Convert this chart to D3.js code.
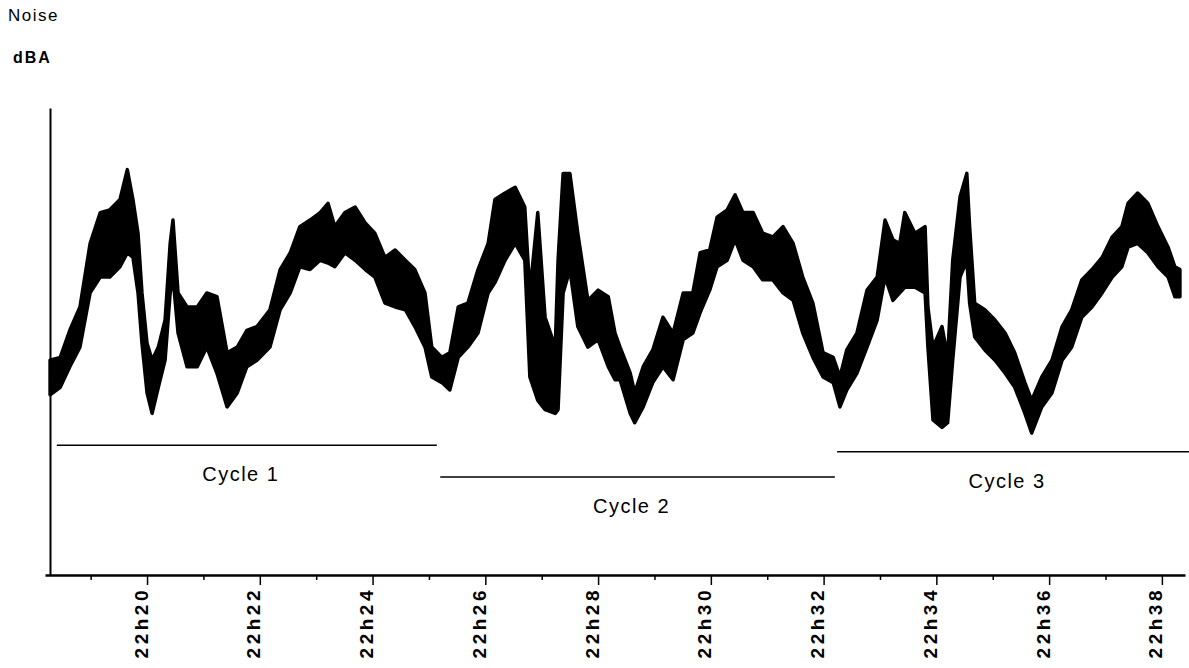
<!DOCTYPE html>
<html>
<head>
<meta charset="utf-8">
<script src="https://cdn.jsdelivr.net/npm/d3@7"></script>
<style>
  body { margin: 0; background: #fff; }
  text { font-family: "Liberation Sans", Arial, sans-serif; fill: #000; }
</style>
</head>
<body>
<div id="chart"></div>
<script>
// sample times, minutes after 22h00
const times = [
  18.28, 18.46, 18.63, 18.81, 18.99, 19.17, 19.34, 19.52, 19.65, 19.75,
  19.84, 19.91, 20.00, 20.09, 20.20, 20.32, 20.41, 20.46, 20.55, 20.71,
  20.89, 21.06, 21.24, 21.42, 21.60, 21.77, 21.95, 22.18, 22.36, 22.54,
  22.71, 22.89, 23.07, 23.21, 23.33, 23.51, 23.69, 23.87, 24.04, 24.22,
  24.40, 24.58, 24.75, 24.93, 25.05, 25.23, 25.37, 25.52, 25.69, 25.87,
  26.05, 26.17, 26.35, 26.53, 26.70, 26.79, 26.93, 27.06, 27.24, 27.29,
  27.38, 27.50, 27.64, 27.82, 28.00, 28.18, 28.30, 28.39, 28.57, 28.65,
  28.80, 28.97, 29.15, 29.33, 29.51, 29.68, 29.81, 29.98, 30.11, 30.29,
  30.43, 30.57, 30.75, 30.92, 31.10, 31.28, 31.46, 31.63, 31.81, 31.99,
  32.17, 32.29, 32.41, 32.59, 32.77, 32.95, 33.09, 33.23, 33.35, 33.44,
  33.62, 33.80, 33.85, 33.94, 34.10, 34.20, 34.29, 34.42, 34.54, 34.59,
  34.68, 34.86, 35.04, 35.22, 35.39, 35.57, 35.69, 35.87, 36.05, 36.23,
  36.40, 36.58, 36.76, 36.94, 37.12, 37.29, 37.40, 37.57, 37.75, 37.93,
  38.11, 38.23, 38.32
];

// upper edge of the noise trace (dBA)
const highDba = [
  53.0, 53.3, 56.2, 58.7, 65.5, 68.8, 69.1, 70.2, 73.4, 70.2,
  66.6, 60.2, 54.8, 53.0, 54.4, 57.3, 65.5, 68.0, 60.2, 58.7,
  58.7, 60.2, 59.8, 53.8, 54.4, 56.2, 56.6, 58.4, 62.7, 64.5,
  67.3, 68.0, 68.8, 69.8, 67.3, 68.8, 69.4, 67.7, 66.6, 64.0,
  64.8, 63.7, 62.7, 60.2, 54.4, 53.3, 53.8, 58.7, 59.1, 62.7,
  65.5, 70.2, 70.9, 71.5, 69.4, 60.2, 68.8, 57.6, 54.4, 63.7,
  73.0, 73.0, 66.6, 59.4, 60.5, 59.8, 55.9, 54.4, 51.6, 49.5,
  52.3, 54.1, 57.6, 55.9, 60.2, 60.2, 64.5, 64.8, 68.3, 69.1,
  70.7, 68.8, 68.8, 66.6, 66.2, 67.3, 65.5, 61.9, 59.1, 53.8,
  53.3, 51.2, 54.1, 55.9, 60.5, 61.9, 68.0, 65.9, 65.5, 68.8,
  66.6, 67.3, 58.7, 54.4, 56.6, 53.3, 63.7, 70.5, 73.0, 67.3,
  59.1, 58.4, 57.3, 55.9, 53.8, 50.6, 48.7, 51.2, 53.0, 56.6,
  58.4, 61.6, 62.7, 64.0, 66.2, 67.3, 69.8, 70.9, 69.8, 67.3,
  65.1, 63.0, 62.7
];

// lower edge of the noise trace (dBA)
const lowDba = [
  49.3, 50.1, 52.3, 54.4, 60.2, 61.9, 61.9, 63.0, 64.5, 64.0,
  60.2, 54.8, 49.5, 47.3, 50.1, 53.0, 60.2, 61.9, 55.9, 52.3,
  52.3, 54.4, 51.6, 48.0, 49.5, 52.3, 53.0, 54.4, 58.4, 60.2,
  63.0, 62.7, 63.7, 63.4, 63.0, 64.5, 63.7, 62.7, 61.9, 59.1,
  58.7, 58.4, 56.6, 54.4, 51.2, 50.6, 49.8, 53.3, 54.4, 55.9,
  60.2, 61.3, 63.7, 65.5, 63.7, 51.2, 48.7, 47.7, 47.3, 47.7,
  60.2, 62.7, 56.6, 54.4, 55.2, 52.3, 50.9, 50.9, 47.3, 46.3,
  48.0, 50.6, 52.3, 50.9, 55.2, 55.9, 58.1, 60.5, 63.0, 63.7,
  65.9, 63.7, 63.0, 61.6, 61.6, 60.2, 59.4, 55.9, 53.3, 51.2,
  50.6, 48.0, 49.8, 51.6, 54.4, 57.3, 61.9, 59.4, 60.2, 60.8,
  60.8, 60.2, 54.4, 46.6, 45.8, 46.3, 53.0, 61.9, 63.7, 59.1,
  55.5, 54.1, 53.0, 51.6, 50.1, 47.3, 45.2, 48.0, 49.5, 53.0,
  54.4, 57.6, 58.7, 60.2, 61.9, 63.0, 65.1, 65.5, 64.5, 63.0,
  61.9, 59.8, 59.8
];

// x axis ticks
const majorTicks = [20, 22, 24, 26, 28, 30, 32, 34, 36, 38];
const tickLabels = ["22h20", "22h22", "22h24", "22h26", "22h28", "22h30", "22h32", "22h34", "22h36", "22h38"];
const minorTicks = [19, 21, 23, 25, 27, 29, 31, 33, 35, 37];

// cycle annotations
const cycleNames = ["Cycle 1", "Cycle 2", "Cycle 3"];
const cycleStart = [18.40, 25.20, 32.24];
const cycleEnd = [25.14, 32.20, 38.48];
const cycleLevel = [43.9, 40.5, 43.2];

const width = 1189, height = 668;

const svg = d3.select('#chart')
    .append('svg')
    .attr('width', width)
    .attr('height', height);

svg.append('rect')
    .attr('width', width)
    .attr('height', height)
    .attr('fill', '#fff');

const x = d3.scaleLinear()
    .domain([18.19, 38.41])
    .range([45, 1185]);

const y = d3.scaleLinear()
    .domain([30, 80])
    .range([575, 108]);

// titles
svg.append('text')
    .attr('x', 8)
    .attr('y', 21)
    .attr('font-size', 17)
    .attr('letter-spacing', 1.5)
    .text('Noise');

svg.append('text')
    .attr('x', 13)
    .attr('y', 63)
    .attr('font-size', 16)
    .attr('font-weight', 'bold')
    .attr('letter-spacing', 2)
    .text('dBA');

// y axis, line only
svg.append('g')
    .attr('transform', `translate(${x.range()[0] + 5}, 0)`)
    .call(d3.axisLeft(y).tickValues([]).tickSizeOuter(0))
    .call(g => g.select('.domain').attr('stroke-width', 2));

// minor ticks
svg.append('g')
    .attr('transform', `translate(0, ${y(30)})`)
    .call(d3.axisBottom(x).tickValues(minorTicks).tickSize(5).tickSizeOuter(0).tickFormat(''))
    .call(g => g.select('.domain').remove())
    .call(g => g.selectAll('.tick line').attr('stroke-width', 1.5));

// x axis with major ticks
const xAxis = svg.append('g')
    .attr('transform', `translate(0, ${y(30)})`)
    .call(d3.axisBottom(x).tickValues(majorTicks).tickSize(10).tickSizeOuter(0)
        .tickFormat((d, i) => tickLabels[i]));

xAxis.select('.domain').attr('stroke-width', 2.5);
xAxis.selectAll('.tick line').attr('stroke-width', 1.5);
xAxis.selectAll('.tick text')
    .attr('font-family', '"Liberation Sans", Arial, sans-serif')
    .attr('font-size', 19)
    .attr('font-weight', 'bold')
    .attr('letter-spacing', 3.5)
    .attr('fill', '#000')
    .attr('text-anchor', 'end')
    .attr('transform', 'rotate(-90)')
    .attr('x', -12)
    .attr('y', 0)
    .attr('dy', '0');

// noise trace
const trace = times.map((t, i) => ({ t: t, hi: highDba[i], lo: lowDba[i] }));

const area = d3.area()
    .x(d => x(d.t))
    .y0(d => y(d.lo))
    .y1(d => y(d.hi));

svg.append('path')
    .datum(trace)
    .attr('fill', '#000')
    .attr('stroke', '#000')
    .attr('stroke-width', 3.5)
    .attr('stroke-linejoin', 'round')
    .attr('d', area);

// cycle lines and labels
cycleNames.forEach((name, i) => {
    svg.append('line')
        .attr('x1', x(cycleStart[i]))
        .attr('x2', x(cycleEnd[i]))
        .attr('y1', y(cycleLevel[i]))
        .attr('y2', y(cycleLevel[i]))
        .attr('stroke', '#000')
        .attr('stroke-width', 1.5);

    svg.append('text')
        .attr('x', (x(cycleStart[i]) + x(cycleEnd[i])) / 2 - 6)
        .attr('y', y(cycleLevel[i]) + 36)
        .attr('text-anchor', 'middle')
        .attr('font-size', 20)
        .attr('letter-spacing', 1.5)
        .text(name);
});
</script>
</body>
</html>
